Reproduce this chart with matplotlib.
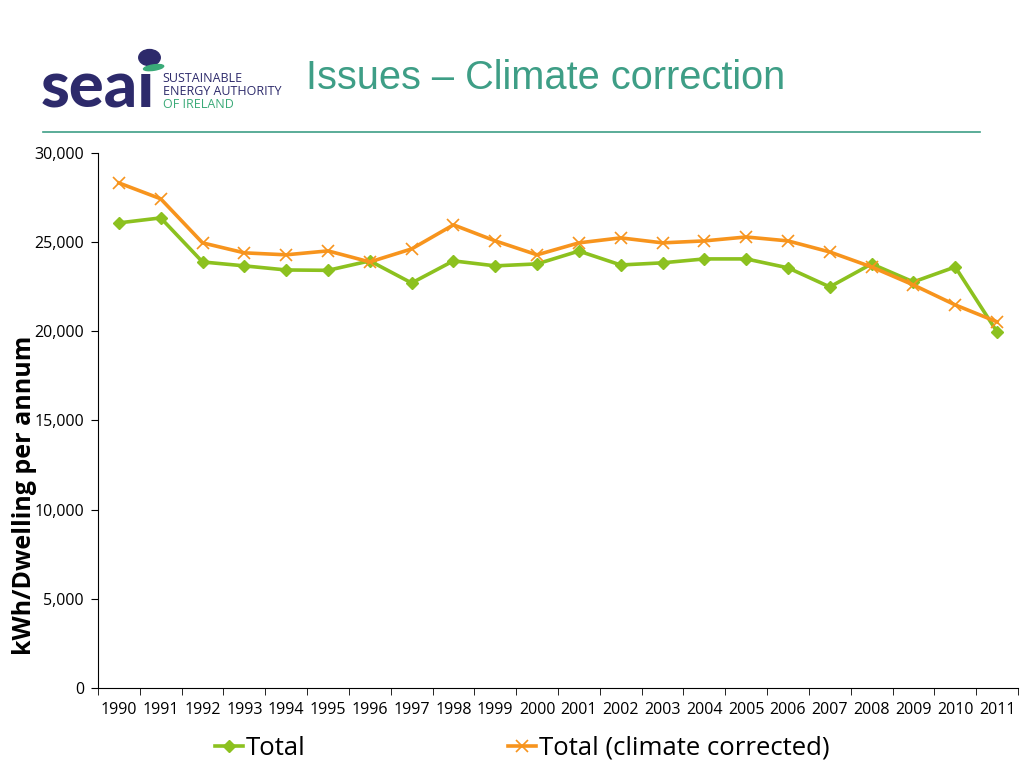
import matplotlib.pyplot as plt
import matplotlib.patches as mpatches
from matplotlib.ticker import FuncFormatter, FixedLocator
import numpy as np

years = [str(y) for y in range(1990, 2012)]
total = [26080, 26360, 23890, 23670, 23440, 23420, 23950, 22710, 23950, 23670, 23780,
         24500, 23720, 23840, 24060, 24060, 23560, 22490, 23780, 22770, 23610, 19970]
total_cc = [28320, 27430, 24960, 24400, 24290, 24510, 23890, 24620, 25970, 25070, 24290,
            24960, 25240, 24960, 25070, 25290, 25070, 24450, 23610, 22600, 21480, 20530]

GREEN = "#8CC11F"
ORANGE = "#F7941D"
NAVY = "#2D2A6B"
TEAL = "#3E9E86"

plt.rcParams["font.family"] = ["Open Sans", "DejaVu Sans"]

fig = plt.figure(figsize=(10.24, 7.68), dpi=100)

# header: logo, title, rule
fig.text(0.040, 0.860, "seaı", fontsize=47, fontweight="black", color=NAVY,
         family="Lato", va="baseline")
fig.patches.append(mpatches.Circle((0.146, 0.925), 0.0105, transform=fig.transFigure,
                                   color=NAVY, figure=fig))
fig.patches.append(mpatches.Ellipse((0.150, 0.912), 0.020, 0.007, angle=12,
                                    transform=fig.transFigure, color="#3AAA78", figure=fig))
fig.text(0.159, 0.893, "SUSTAINABLE", fontsize=9, color=NAVY, family="Open Sans")
fig.text(0.159, 0.876, "ENERGY AUTHORITY", fontsize=9, color=NAVY, family="Open Sans")
fig.text(0.159, 0.859, "OF IRELAND", fontsize=9, color="#3AAA78", family="Open Sans")
fig.text(0.299, 0.898, "Issues \u2013 Climate correction", fontsize=28.6, color=TEAL,
         family="Liberation Sans", va="center")
fig.add_artist(plt.Line2D([0.042, 0.957], [0.828, 0.828], color=TEAL, lw=1.2,
                          transform=fig.transFigure))

ax = fig.add_axes([0.0957, 0.1042, 0.8984, 0.6966])
x = np.arange(len(years))
ax.plot(x, total, color=GREEN, lw=2.6, marker="D", ms=6, label="Total")
ax.plot(x, total_cc, color=ORANGE, lw=2.6, marker="x", ms=8, mew=1.2,
        label="Total (climate corrected)")

ax.set_xlim(-0.5, len(years) - 0.5)
ax.set_ylim(0, 30000)
ax.set_yticks(range(0, 30001, 5000))
ax.yaxis.set_major_formatter(FuncFormatter(lambda v, p: f"{int(v):,}"))
ax.set_xticks(x)
ax.set_xticklabels(years)
ax.xaxis.set_minor_locator(FixedLocator(np.arange(-0.5, len(years), 1)))
ax.tick_params(axis="x", which="major", length=0, labelsize=11.5, pad=10)
ax.tick_params(axis="x", which="minor", length=5, direction="out")
ax.tick_params(axis="y", length=5, direction="out", labelsize=11.5, pad=5)
for s in ["top", "right"]:
    ax.spines[s].set_visible(False)
ax.set_ylabel("kWh/Dwelling per annum", fontsize=18, fontweight="bold")
ax.yaxis.set_label_coords(-0.066, 0.36)

ax.legend(loc="center", bbox_to_anchor=(0.461, -0.113), ncol=2, frameon=False,
          fontsize=18.5, handlelength=1.1, handletextpad=0.1, columnspacing=7.9,
          borderaxespad=0, borderpad=0)

fig.savefig("out.png", dpi=100)
